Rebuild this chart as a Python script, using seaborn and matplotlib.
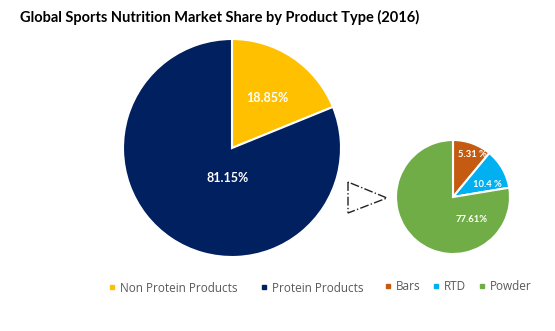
import numpy as np
import matplotlib
matplotlib.use("Agg")
import matplotlib.pyplot as plt
from matplotlib.lines import Line2D
from matplotlib.patches import Polygon
import seaborn as sns

# ---- data ----
main_labels = ["Non Protein Products", "Protein Products"]
main_values = [18.85, 81.15]
main_text = ["18.85%", "81.15%"]

sub_labels = ["Bars", "RTD", "Powder"]
sub_values = [11.0, 11.39, 77.61]
sub_text = ["5.31 %", "10.4 %", "77.61%"]

title = "Global Sports Nutrition Market Share by Product Type (2016)"

# ---- style ----
sns.set_theme(style="white")
plt.rcParams["font.family"] = ["Lato", "DejaVu Sans"]

main_colors = ["#FFC000", "#002060"]
sub_colors = ["#C55A11", "#00B0F0", "#70AD47"]

W, H = 555, 331
fig = plt.figure(figsize=(W / 100, H / 100), dpi=100)
ax = fig.add_axes([0, 0, 1, 1])

def yy(y):
    return H - y

# main pie
c1 = (232, yy(148)); r1 = 109
ax.pie(main_values, colors=main_colors, startangle=90, counterclock=False,
       center=c1, radius=r1, wedgeprops=dict(edgecolor="white", linewidth=1.5),
       frame=False)
# sub pie
c2 = (453, yy(197)); r2 = 57
ax.pie(sub_values, colors=sub_colors, startangle=90, counterclock=False,
       center=c2, radius=r2, wedgeprops=dict(edgecolor="white", linewidth=1.5),
       frame=False)
ax.set_xlim(0, W)
ax.set_ylim(0, H)
ax.set_aspect("equal")
ax.axis("off")

# labels placed in polar offsets (fraction of radius, degrees clockwise from top)
def polar(c, r, frac, ang):
    a = np.deg2rad(ang)
    return c[0] + frac * r * np.sin(a), c[1] + frac * r * np.cos(a)

main_pos = [(0.56, 35), (0.28, 188)]
for t, (f, a) in zip(main_text, main_pos):
    x, y = polar(c1, r1, f, a)
    ax.text(x, y, t, color="white", fontsize=9, fontweight="bold",
            ha="center", va="center")

sub_pos = [(0.82, 24), (0.65, 70), (0.52, 140)]
for t, (f, a) in zip(sub_text, sub_pos):
    x, y = polar(c2, r2, f, a)
    ax.text(x, y, t, color="white", fontsize=6.8, fontweight="bold",
            ha="center", va="center")

# dash-dot triangle pointer
tri = Polygon([(348, yy(182)), (348, yy(213)), (387, yy(198))], closed=True,
              fill=False, edgecolor="#222222", linestyle="-.", linewidth=1.0)
ax.add_patch(tri)

# title
fig.text(20 / W, 1 - 17 / H, title, fontsize=10.5, fontweight="bold",
         color="black", ha="left", va="center")

# legends
def handles(colors):
    return [Line2D([], [], marker="s", linestyle="", markersize=3,
                   markerfacecolor=c, markeredgecolor=c) for c in colors]

leg_kw = dict(frameon=False, handletextpad=0.3, handlelength=0.7,
              borderpad=0, borderaxespad=0,
              prop={"family": ["Open Sans", "DejaVu Sans"], "size": 8.5})
leg1 = fig.legend(handles(main_colors), main_labels, ncol=2,
                  loc="center left", bbox_to_anchor=(108 / W, 1 - 288 / H),
                  columnspacing=1.9, labelcolor="#595959", **leg_kw)
leg2 = fig.legend(handles(sub_colors), sub_labels, ncol=3,
                  loc="center left", bbox_to_anchor=(384 / W, 1 - 287 / H),
                  columnspacing=1.0, labelcolor="#595959", **leg_kw)

fig.savefig("out.png", dpi=100, facecolor="white")
